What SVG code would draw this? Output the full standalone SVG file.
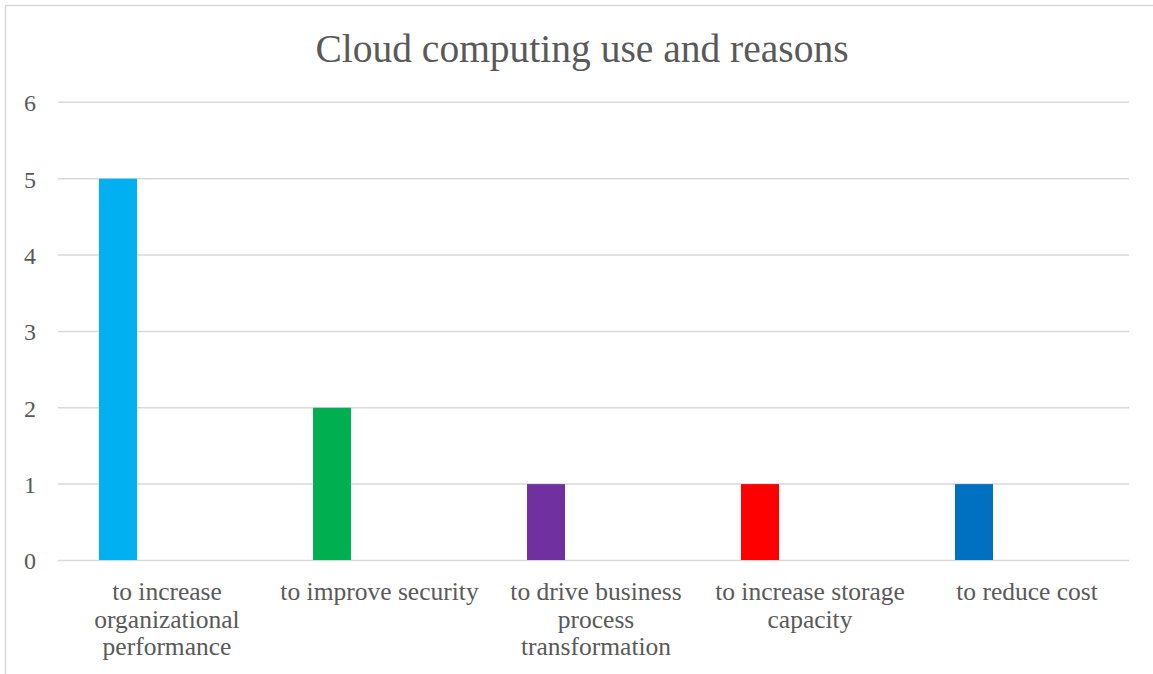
<svg xmlns="http://www.w3.org/2000/svg" width="1153" height="674" viewBox="0 0 1153 674">
<style>
.t{font-family:"Liberation Serif","Times New Roman",serif;fill:#595959}
.title{font-size:39.5px;text-anchor:middle}
.ax{font-size:25.5px;text-anchor:middle}
.ay{font-size:24px;text-anchor:end}
.grid{stroke:#D9D9D9;stroke-width:1.5;fill:none}
</style>
<rect x="0" y="0" width="1153" height="674" fill="#FFFFFF"/>
<rect x="5.5" y="5.5" width="1160" height="680" fill="#FFFFFF" stroke="#D9D9D9" stroke-width="1.5"/>
<g id="title"><text class="t title" x="582" y="62">Cloud computing use and reasons</text></g>
<g id="gridlines">
<line class="grid" x1="58" y1="102.3" x2="1129" y2="102.3"/>
<line class="grid" x1="58" y1="178.7" x2="1129" y2="178.7"/>
<line class="grid" x1="58" y1="255" x2="1129" y2="255"/>
<line class="grid" x1="58" y1="331.4" x2="1129" y2="331.4"/>
<line class="grid" x1="58" y1="407.8" x2="1129" y2="407.8"/>
<line class="grid" x1="58" y1="484.1" x2="1129" y2="484.1"/>
<line class="grid" x1="58" y1="560.5" x2="1129" y2="560.5"/>
</g>
<g id="y-axis-labels">
<text class="t ay" x="36" y="111">6</text>
<text class="t ay" x="36" y="187.5">5</text>
<text class="t ay" x="36" y="264">4</text>
<text class="t ay" x="36" y="340">3</text>
<text class="t ay" x="36" y="416.5">2</text>
<text class="t ay" x="36" y="493">1</text>
<text class="t ay" x="36" y="569">0</text>
</g>
<g id="bar1"><rect x="99" y="178.7" width="38" height="381.3" fill="#00B0F0"/></g>
<g id="bar2"><rect x="313" y="407.8" width="38" height="152.2" fill="#00B050"/></g>
<g id="bar3"><rect x="527" y="484.1" width="38" height="75.9" fill="#7030A0"/></g>
<g id="bar4"><rect x="741" y="484.1" width="38" height="75.9" fill="#FF0000"/></g>
<g id="bar5"><rect x="955" y="484.1" width="38" height="75.9" fill="#0070C0"/></g>
<g id="x-axis-labels">
<text class="t ax" x="167" y="600">to increase</text>
<text class="t ax" x="167" y="627.5">organizational</text>
<text class="t ax" x="167" y="655">performance</text>
<text class="t ax" x="379.5" y="600">to improve security</text>
<text class="t ax" x="596" y="600">to drive business</text>
<text class="t ax" x="596" y="627.5">process</text>
<text class="t ax" x="596" y="655">transformation</text>
<text class="t ax" x="810" y="600">to increase storage</text>
<text class="t ax" x="810" y="627.5">capacity</text>
<text class="t ax" x="1027" y="600">to reduce cost</text>
</g>
</svg>
